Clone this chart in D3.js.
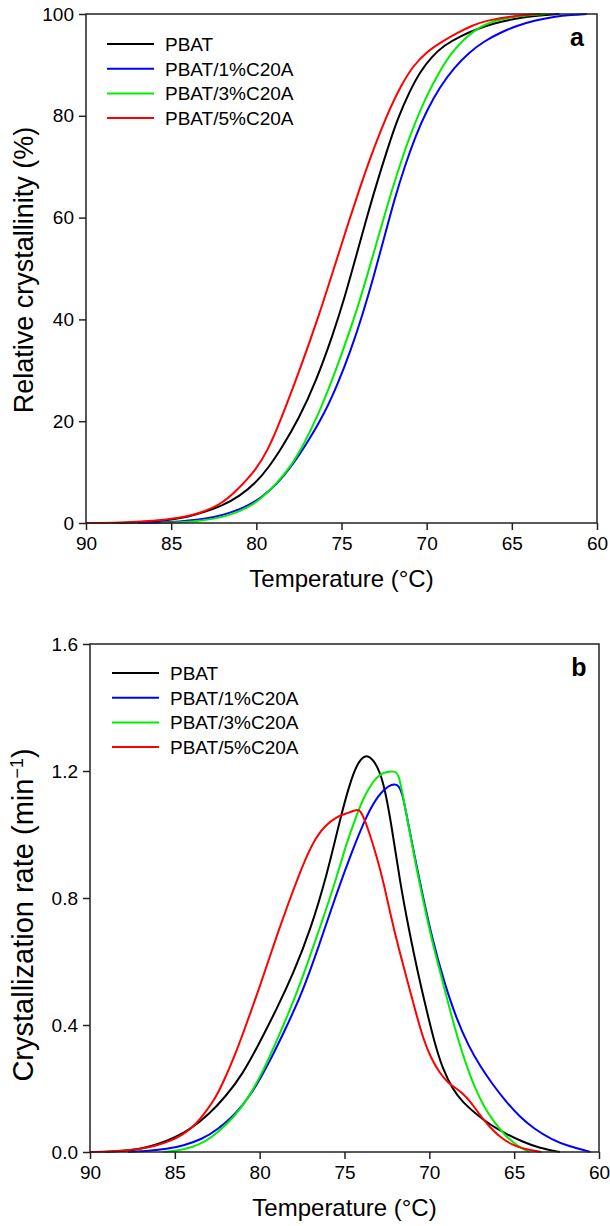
<!DOCTYPE html>
<html><head><meta charset="utf-8">
<script src="https://cdn.jsdelivr.net/npm/d3@7"></script>
<style>
body{margin:0;background:#fff}
svg{display:block}
text{font-family:Arial,"Liberation Sans",Helvetica,sans-serif;fill:#000}
</style>
</head><body>
<script>
// ---- data (temperature °C, value) ----
const seriesNames = ["PBAT", "PBAT/1%C20A", "PBAT/3%C20A", "PBAT/5%C20A"];
const seriesColors = ["#000000", "#0000ff", "#00ee00", "#ff0000"];
const xTickValues = [90, 85, 80, 75, 70, 65, 60];
const yTicksA = [0, 20, 40, 60, 80, 100];
const yTicksB = [0, 0.4, 0.8, 1.2, 1.6];

// panel a: relative crystallinity (%)
const crystPBAT = [[88.5,0],[87,0.1],[86,0.3],[85,0.65],[84,1.2],[83,2.2],[82,3.4],[81,5.2],[80,8.0],[79.3,10.8],[78.5,14.8],[77.5,20.5],[76.5,27.8],[75.5,37],[74.8,44.5],[74.3,50.5],[73.6,59],[73,66],[72.3,73.5],[71.7,79.5],[71,84.8],[70.4,88.6],[69.7,91.6],[69,93.8],[68,95.7],[67,97.1],[66,98.2],[64.8,99.1],[63.5,99.7],[62.2,100]];
const cryst1 = [[87,0],[85.5,0.1],[84.5,0.3],[83.5,0.6],[82.5,1.1],[81.5,2.0],[80.5,3.4],[79.7,5.0],[78.8,7.6],[78,10.8],[77,15.8],[76,21.5],[75.2,27.5],[74.5,33.5],[73.8,40.5],[73.1,48.5],[72.5,56],[71.9,63.5],[71.3,70],[70.6,76.5],[70,81],[69.2,85.8],[68.4,89.4],[67.5,92.5],[66.6,94.7],[65.7,96.3],[64.7,97.7],[63.7,98.7],[62.5,99.5],[61.5,99.85],[60.6,100]];
const cryst3 = [[85.6,0],[84.5,0.1],[83.5,0.35],[82.5,0.8],[81.5,1.6],[80.5,3.0],[79.7,4.8],[78.8,7.8],[78,11],[77.2,15.5],[76.4,21],[75.5,28.5],[74.8,35],[74.1,41.8],[73.5,48.5],[72.9,55.5],[72.3,62.5],[71.7,69],[71.2,74],[70.7,78.5],[70,84],[69.2,89],[68.5,92.6],[67.65,95.6],[66.8,97.6],[66,98.7],[65,99.4],[64,99.8],[63,100]];
const cryst5 = [[90,0],[88,0.05],[86,0.4],[84.5,1.0],[83.4,1.8],[82.1,3.6],[81.2,6.2],[80,10.5],[79.3,14.5],[78.65,19.5],[77.4,30.5],[76.3,41],[75.4,50.5],[74.5,60],[73.9,66],[73.4,71],[72.3,80.5],[71.5,86],[70.8,89.8],[70,92.6],[69,94.8],[68.2,96.3],[67.3,97.8],[66.5,98.7],[65,99.6],[63.3,100]];

// panel b: crystallization rate (min^-1)
const ratePBAT = [[89.1,0],[88,0.003],[87,0.01],[86,0.024],[85,0.045],[84,0.075],[83,0.118],[82,0.175],[81,0.245],[80,0.345],[79,0.45],[78,0.565],[77,0.7],[76,0.88],[75.3,1.04],[74.7,1.16],[74.2,1.23],[73.7,1.255],[73.2,1.23],[72.7,1.17],[72.2,1.02],[71.7,0.84],[71.2,0.7],[70.7,0.57],[70.2,0.455],[69.7,0.345],[69.2,0.26],[68.6,0.195],[68,0.155],[67.3,0.122],[66.4,0.085],[65.5,0.058],[64.5,0.032],[63.5,0.012],[62.3,0]];
const rate1 = [[87.75,0],[86.5,0.004],[85.5,0.009],[84.5,0.02],[83.4,0.04],[82.5,0.07],[81.5,0.115],[80.5,0.18],[79.5,0.275],[78.5,0.385],[77.5,0.5],[76.5,0.65],[75.5,0.81],[74.5,0.955],[73.7,1.06],[73,1.125],[72.4,1.155],[71.9,1.162],[71.6,1.135],[71.3,1.05],[70.9,0.94],[70.4,0.81],[69.8,0.665],[69.1,0.53],[68.4,0.42],[67.7,0.335],[67,0.27],[66.3,0.215],[65.5,0.16],[64.7,0.112],[63.8,0.072],[62.8,0.04],[61.8,0.018],[60.5,0]];
const rate3 = [[85.7,0],[84.8,0.005],[84,0.014],[83.2,0.033],[82.5,0.06],[81.5,0.11],[80.6,0.175],[79.7,0.265],[78.8,0.374],[78,0.475],[77.2,0.59],[76.4,0.715],[75.6,0.84],[74.9,0.97],[74.3,1.06],[73.8,1.125],[73.3,1.168],[72.9,1.19],[72.5,1.198],[72.05,1.2],[71.8,1.19],[71.55,1.12],[71.2,1.02],[70.8,0.905],[70.3,0.775],[69.8,0.655],[69.3,0.555],[68.8,0.45],[68.3,0.353],[67.8,0.27],[67.3,0.2],[66.8,0.145],[66.2,0.095],[65.5,0.05],[64.8,0.018],[64.1,0]];
const rate5 = [[90,0],[89,0.001],[88,0.004],[87,0.01],[86.1,0.02],[85.3,0.034],[84.5,0.055],[83.8,0.085],[83.2,0.125],[82.6,0.17],[82.1,0.225],[81.5,0.3],[81,0.37],[80.5,0.445],[80,0.52],[79.5,0.6],[78.9,0.695],[78.3,0.785],[77.7,0.87],[77.2,0.935],[76.7,0.99],[76.1,1.03],[75.5,1.055],[74.9,1.066],[74.4,1.076],[74.15,1.08],[73.9,1.06],[73.5,1.0],[73.1,0.93],[72.7,0.85],[72.3,0.75],[71.8,0.64],[71.3,0.54],[70.8,0.44],[70.35,0.355],[69.9,0.295],[69.4,0.25],[68.9,0.217],[68.4,0.2],[68.0,0.183],[67.6,0.16],[67.2,0.13],[66.7,0.095],[66.2,0.065],[65.6,0.038],[65,0.02],[64.3,0.008],[63.4,0]];

const W = 610, H = 1226;
const svg = d3.select("body").append("svg").attr("width", W).attr("height", H);

function panel(opt) {
  const x = d3.scaleLinear().domain([90, 60]).range([opt.left, opt.right]);
  const y = d3.scaleLinear().domain([0, opt.ymax]).range([opt.bottom, opt.top]);
  const g = svg.append("g");

  const line = d3.line().x(d => x(d[0])).y(d => y(d[1])).curve(d3.curveBasis);
  opt.series.forEach((s, i) => {
    g.append("path").attr("d", line(s)).attr("fill", "none")
      .attr("stroke", seriesColors[i]).attr("stroke-width", 2)
      .attr("stroke-linejoin", "round");
  });

  // frame
  g.append("rect").attr("x", opt.left).attr("y", opt.top)
    .attr("width", opt.right - opt.left).attr("height", opt.bottom - opt.top)
    .attr("fill", "none").attr("stroke", "#222").attr("stroke-width", 1.5);

  const xa = g.append("g").attr("transform", `translate(0,${opt.bottom})`)
    .call(d3.axisBottom(x).tickValues(xTickValues).tickSize(7).tickSizeOuter(0).tickPadding(7).tickFormat(d3.format("d")));
  const ya = g.append("g").attr("transform", `translate(${opt.left},0)`)
    .call(d3.axisLeft(y).tickValues(opt.yticks).tickSize(7).tickSizeOuter(0).tickPadding(5).tickFormat(opt.yfmt));
  [xa, ya].forEach(a => {
    a.select(".domain").remove();
    a.selectAll("line").attr("stroke", "#222").attr("stroke-width", 1.5);
    a.selectAll("text").attr("font-size", 19).attr("font-family", "Arial,'Liberation Sans',sans-serif").attr("fill", "#000");
  });

  // x title
  g.append("text").attr("x", (opt.left + opt.right) / 2).attr("y", opt.bottom + 64)
    .attr("text-anchor", "middle").attr("font-size", 24).text("Temperature (°C)");

  // y title
  const yt = g.append("text")
    .attr("transform", `translate(${opt.ytitleX},${opt.ytitleY}) rotate(-90)`)
    .attr("text-anchor", "middle").attr("font-size", opt.ytitleSize);
  opt.ytitle(yt);

  // panel letter
  g.append("text").attr("x", opt.right - 20).attr("y", opt.top + 32)
    .attr("text-anchor", "middle").attr("font-size", 25).attr("font-weight", "bold").text(opt.letter);

  // legend
  seriesNames.forEach((n, i) => {
    const ly = opt.legY + i * 24.7;
    g.append("line").attr("x1", opt.legX).attr("x2", opt.legX + 47).attr("y1", ly).attr("y2", ly)
      .attr("stroke", seriesColors[i]).attr("stroke-width", 2);
    g.append("text").attr("x", opt.legX + 58).attr("y", ly + 7).attr("font-size", 19).text(n);
  });
}

panel({
  left: 86, right: 597, top: 14, bottom: 523, ymax: 100,
  yticks: yTicksA, yfmt: d3.format("d"),
  series: [crystPBAT, cryst1, cryst3, cryst5],
  letter: "a", legX: 107, legY: 44, ytitleX: 33, ytitleY: 270, ytitleSize: 27,
  ytitle: t => t.text("Relative crystallinity  (%)")
});

panel({
  left: 90, right: 599, top: 644, bottom: 1152, ymax: 1.6,
  yticks: yTicksB, yfmt: d3.format(".1f"),
  series: [ratePBAT, rate1, rate3, rate5],
  letter: "b", legX: 112, legY: 673, ytitleX: 33, ytitleY: 915, ytitleSize: 29,
  ytitle: t => {
    t.append("tspan").text("Crystallization rate (min");
    t.append("tspan").attr("font-size", 18).attr("dy", -10).text("−1");
    t.append("tspan").attr("dy", 10).text(")");
  }
});
</script>
</body></html>
